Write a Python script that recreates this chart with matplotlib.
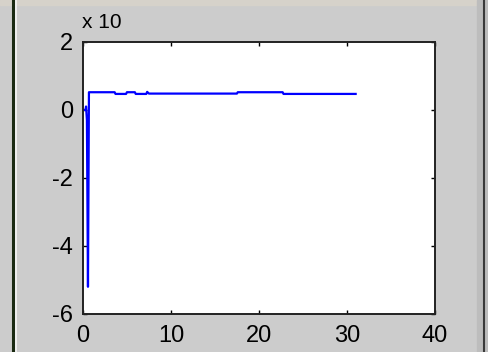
import matplotlib.pyplot as plt
from matplotlib.patches import Rectangle
from matplotlib.lines import Line2D

plt.rcParams['font.family'] = ['Liberation Sans', 'DejaVu Sans']
plt.rcParams['axes.unicode_minus'] = False

# trace (y in units of 10^n)
t = [0.0, 0.3, 0.35, 0.45, 0.57, 0.68, 0.9, 3.6, 3.7, 4.9, 5.0, 5.9, 6.0,
     7.2, 7.3, 7.5, 17.5, 17.6, 22.7, 22.8, 31.0]
v = [0.0, 0.0, 0.1, -0.3, -5.2, 0.52, 0.52, 0.52, 0.47, 0.47, 0.52, 0.52, 0.47,
     0.47, 0.53, 0.48, 0.48, 0.52, 0.52, 0.47, 0.47]

xticks = [0, 10, 20, 30, 40]
yticks = [-6, -4, -2, 0, 2]

fig = plt.figure(figsize=(4.88, 3.52), dpi=100, facecolor='#cccccc')
ax = fig.add_axes([0.170, 0.108, 0.721, 0.773])

ax.plot(t, v, color='#0000ff', linewidth=1.6)
ax.set_xlim(0, 40)
ax.set_ylim(-6, 2)
ax.set_xticks(xticks)
ax.set_yticks(yticks)
ax.tick_params(direction='in', length=3, width=1, top=True, right=True,
               labelsize=17, pad=7, colors='black')
ax.tick_params(axis='x', pad=8)
for s in ax.spines.values():
    s.set_linewidth(1.4)
    s.set_color('#222222')

fig.text(0.168, 0.935, 'x 10', fontsize=15, ha='left', va='center')

# window borders of the screenshot
fig.add_artist(Rectangle((0, 0.986), 1, 0.014, transform=fig.transFigure,
                         color='#d6d2ca', zorder=0))
fig.add_artist(Line2D([0.027, 0.027], [0, 1], transform=fig.transFigure,
                      color='#1a2a12', linewidth=2.2))
fig.add_artist(Line2D([0.032, 0.032], [0, 1], transform=fig.transFigure,
                      color='#f4f4f4', linewidth=1.2))
fig.add_artist(Rectangle((0.978, 0), 0.022, 1, transform=fig.transFigure,
                         color='#bdbdbd', zorder=0))
fig.add_artist(Line2D([0.991, 0.991], [0, 1], transform=fig.transFigure,
                      color='#3a3a3a', linewidth=1.5))

fig.savefig('out.png', dpi=100, facecolor=fig.get_facecolor())
